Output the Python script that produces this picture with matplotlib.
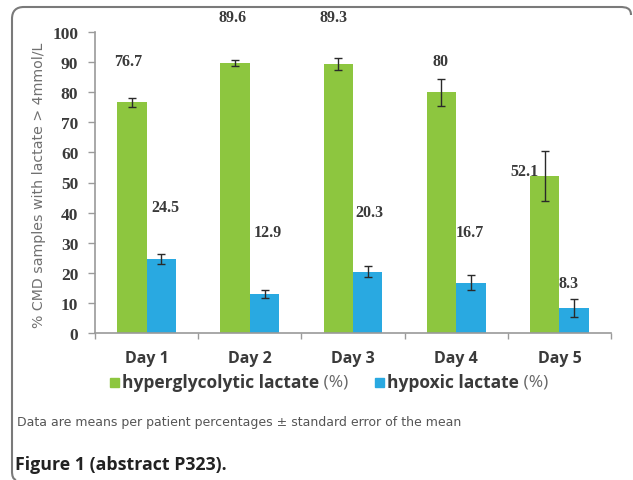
import numpy as np
import matplotlib
matplotlib.use("Agg")
import matplotlib.pyplot as plt
from matplotlib.path import Path
from matplotlib.patches import PathPatch, Rectangle

# ---- data ----
days = ["Day 1", "Day 2", "Day 3", "Day 4", "Day 5"]
hyperglycolytic = [76.7, 89.6, 89.3, 80.0, 52.1]
hyperglycolytic_se = [1.5, 1.0, 2.0, 4.5, 8.3]
hypoxic = [24.5, 12.9, 20.3, 16.7, 8.3]
hypoxic_se = [1.6, 1.3, 1.8, 2.5, 3.0]
y_ticks = [0, 10, 20, 30, 40, 50, 60, 70, 80, 90, 100]

W, H = 633, 481
fig = plt.figure(figsize=(W / 100, H / 100), dpi=100)
fig.patch.set_facecolor("white")

def fx(x):
    return x / W

def fy(y):
    return 1 - y / H

ax = fig.add_axes([fx(95), fy(334), fx(611) - fx(95), fy(33) - fy(334)])

green = "#8DC63F"
blue = "#29A9E1"
axis_gray = "#9a9a9a"
txt = "#3a3a3a"

x = np.arange(len(days)) + 0.5
w = 0.285
ax.bar(x - w / 2, hyperglycolytic, w, color=green, zorder=2)
ax.bar(x + w / 2, hypoxic, w, color=blue, zorder=2)
ax.errorbar(x - w / 2, hyperglycolytic, yerr=hyperglycolytic_se, fmt="none",
            ecolor="#2a2a2a", elinewidth=1.0, capsize=3, capthick=1.0, zorder=3)
ax.errorbar(x + w / 2, hypoxic, yerr=hypoxic_se, fmt="none",
            ecolor="#2a2a2a", elinewidth=1.0, capsize=3, capthick=1.0, zorder=3)

# value labels (placement as in the original, label heights in data units)
g_lab_y = [90.4, 105.0, 105.0, 90.4, 53.8]
g_lab_dx = [-0.04, -0.02, -0.05, -0.01, -0.2]
b_lab_y = [41.9, 33.6, 40.2, 33.6, 16.6]
b_lab_dx = [0.04, 0.03, 0.02, -0.01, -0.05]
lab_font = dict(family=["Liberation Serif", "DejaVu Serif"], fontsize=11.5,
                fontweight="bold", color=txt, ha="center", va="center")
for i in range(len(days)):
    v = hyperglycolytic[i]
    ax.text(x[i] - w / 2 + g_lab_dx[i], g_lab_y[i],
            f"{v:g}", clip_on=False, **lab_font)
    v = hypoxic[i]
    ax.text(x[i] + w / 2 + b_lab_dx[i], b_lab_y[i],
            f"{v:g}", clip_on=False, **lab_font)

ax.set_xlim(0, 5)
ax.set_ylim(0, 100)
ax.set_yticks(y_ticks)
ax.set_yticklabels([str(t) for t in y_ticks],
                   fontfamily=["Liberation Serif", "DejaVu Serif"],
                   fontsize=12.5, fontweight="bold", color=txt)
ax.set_xticks(x)
ax.set_xticklabels(days, fontfamily=["Open Sans", "DejaVu Sans"],
                   fontsize=11.5, fontweight="bold", color=txt)
ax.set_xticks(np.arange(len(days) + 1), minor=True)
ax.tick_params(axis="x", which="major", length=0, pad=12)
ax.tick_params(axis="x", which="minor", length=4, direction="out",
               color=axis_gray, width=1)
ax.tick_params(axis="y", length=5, direction="out", color=axis_gray,
               width=1, pad=7)
for s in ["top", "right"]:
    ax.spines[s].set_visible(False)
for s in ["left", "bottom"]:
    ax.spines[s].set_color(axis_gray)
    ax.spines[s].set_linewidth(1.2)

fig.text(fx(39), fy(185), "% CMD samples with lactate > 4mmol/L",
         rotation=90, ha="center", va="center", fontsize=10.2,
         family=["DejaVu Sans"], color="#707070")

# legend
leg_y = fy(383)
sq = 9
fig.patches.append(Rectangle((fx(110), fy(388)), fx(sq), sq / H,
                             transform=fig.transFigure, color=green))
t1 = fig.text(fx(122), leg_y, "hyperglycolytic lactate", ha="left",
              va="center", fontsize=12.5, fontweight="bold",
              family=["Open Sans", "DejaVu Sans"], color=txt)
fig.patches.append(Rectangle((fx(375), fy(388)), fx(sq), sq / H,
                             transform=fig.transFigure, color=blue))
t2 = fig.text(fx(387), leg_y, "hypoxic lactate", ha="left",
              va="center", fontsize=12.5, fontweight="bold",
              family=["Open Sans", "DejaVu Sans"], color=txt)
for t in (t1, t2):
    fig.add_artist(plt.Annotation(" (%)", xy=(1, 0.5), xycoords=t,
                                  va="center", ha="left", fontsize=12.5,
                                  family=["Open Sans", "DejaVu Sans"],
                                  color="#666666"))

fig.text(fx(17), fy(423),
         "Data are means per patient percentages \u00b1 standard error of the mean",
         ha="left", va="center", fontsize=9.0,
         family=["DejaVu Sans"], color="#555555")

fig.text(fx(15), fy(465), "Figure 1 (abstract P323).", ha="left",
         va="center", fontsize=12.8, fontweight="bold",
         family=["Open Sans", "DejaVu Sans"], color="#222222")

# frame (top and left rounded edges)
verts = [(fx(631), fy(16)), (fx(631), fy(9)), (fx(626), fy(8)), (fx(620), fy(8)),
         (fx(24), fy(8)),
         (fx(16), fy(8)), (fx(12), fy(12)), (fx(12), fy(20)),
         (fx(12), fy(472)),
         (fx(12), fy(477)), (fx(13), fy(480)), (fx(16), fy(481))]
codes = [Path.MOVETO, Path.CURVE4, Path.CURVE4, Path.CURVE4,
         Path.LINETO,
         Path.CURVE4, Path.CURVE4, Path.CURVE4,
         Path.LINETO,
         Path.CURVE4, Path.CURVE4, Path.CURVE4]
fig.patches.append(PathPatch(Path(verts, codes), transform=fig.transFigure,
                             fill=False, edgecolor="#7a7a7a", linewidth=1.5))

fig.savefig("out.png", dpi=100)
